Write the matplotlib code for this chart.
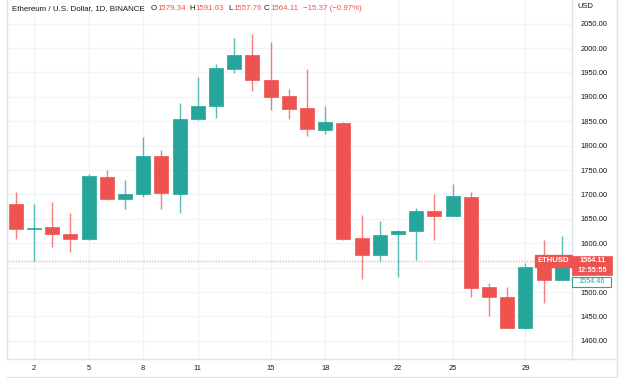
import matplotlib.pyplot as plt
import numpy as np
from matplotlib.lines import Line2D
from matplotlib.patches import Rectangle

# daily candles (day of month, open, high, low, close)
days = list(range(1, 32))
opens = [1680, 1629, 1633, 1619, 1608, 1735, 1691, 1700, 1778, 1701,
         1855, 1882, 1958, 1985, 1935, 1901, 1877, 1833, 1846, 1611,
         1576, 1618, 1624, 1667, 1656, 1694, 1510, 1490, 1426, 1556, 1525]
highs = [1705, 1680, 1684, 1662, 1742, 1751, 1729, 1817, 1791, 1887,
         1941, 1967, 2020, 2029, 2012, 1916, 1957, 1882, 1848, 1657,
         1646, 1628, 1672, 1700, 1721, 1704, 1518, 1510, 1560, 1607, 1615]
lows = [1609, 1563, 1592, 1581, 1606, 1689, 1671, 1695, 1671, 1661,
        1852, 1856, 1948, 1911, 1874, 1855, 1820, 1823, 1607, 1527,
        1564, 1531, 1566, 1606, 1655, 1490, 1451, 1426, 1424, 1477, 1524]
closes = [1630, 1632, 1619, 1608, 1738, 1691, 1700, 1778, 1703, 1855,
          1882, 1960, 1985, 1934, 1900, 1876, 1835, 1848, 1609, 1576,
          1617, 1625, 1665, 1656, 1697, 1508, 1490, 1427, 1552, 1525, 1554.46]

x_ticks = [2, 5, 8, 11, 15, 18, 22, 25, 29]
y_ticks = list(range(1400, 2100, 50))
hidden_tick = 1550  # covered by the price label on the scale
last_price = 1564.11
last_close = 1554.46

UP = "#26a69a"
DOWN = "#ef5350"
GRID = "#f0f3fa"
BORDER = "#e0e3eb"
TXT = "#131722"
FONT = "Liberation Sans"

W, H = 624, 378
fig = plt.figure(figsize=(W / 100, H / 100), dpi=100)
ax = fig.add_axes([7 / W, 19 / H, 565 / W, 359 / H])
ax.set_xlim(0.516, 31.56)
ax.set_ylim(1362.7, 2098.4)

o = np.array(opens, dtype=float)
c = np.array(closes, dtype=float)
colors = [UP if cc >= oo else DOWN for oo, cc in zip(o, c)]

ax.vlines(days, lows, highs, colors=colors, lw=1, alpha=0.75, zorder=3)
body = np.maximum(np.abs(c - o), 1.5)
ax.bar(days, body, bottom=np.minimum(o, c), width=0.76, color=colors,
       edgecolor=colors, lw=0.5, zorder=4)

# grid
ax.set_xticks(x_ticks)
ax.set_xticklabels([str(d) for d in x_ticks])
ax.set_yticks(y_ticks)
ax.set_yticklabels(["" if v == hidden_tick else "{:.2f}".format(v) for v in y_ticks])
ax.grid(True, color=GRID, lw=1, zorder=0)
ax.set_axisbelow(True)
ax.yaxis.tick_right()
ax.tick_params(axis='y', length=0, pad=6, labelsize=5.4, labelcolor=TXT)
ax.tick_params(axis='x', length=0, pad=4, labelsize=5.4, labelcolor=TXT)
for lab in ax.get_xticklabels() + ax.get_yticklabels():
    lab.set_fontfamily(FONT)

ax.spines["top"].set_visible(False)
for s in ["left", "bottom", "right"]:
    ax.spines[s].set_color(BORDER)
    ax.spines[s].set_linewidth(1)

# last price line
ax.axhline(last_price, color=DOWN, lw=1, ls=(0, (1, 1)), alpha=0.45, zorder=2)

# outer frame of the right scale / time scale
fig.add_artist(Line2D([617 / W, 617 / W], [1 / H, 1], color=BORDER, lw=1))
fig.add_artist(Line2D([7 / W, 617 / W], [1 / H, 1 / H], color=BORDER, lw=1))
fig.add_artist(Line2D([572 / W, 617 / W], [19 / H, 19 / H], color=BORDER, lw=1))

# price labels on the scale
ytr = ax.get_yaxis_transform()
fig.text(577 / W, 1 - 6 / H, "USD", fontsize=5.4, color=TXT, family=FONT, va='center')
ax.add_patch(Rectangle((1.0, 1534.8), 0.071, 39.6, transform=ytr, fc=DOWN,
                       ec=DOWN, lw=0.5, clip_on=False, zorder=5))
ax.add_patch(Rectangle((1.0, 1510.9), 0.069, 19.2, transform=ytr, fc='white',
                       ec=UP, lw=0.8, clip_on=False, zorder=5))
ax.text(1.036, 1565.0, "1564.11", transform=ytr, ha='center', va='center',
        fontsize=5.2, color='white', family=FONT, fontweight='bold', zorder=6)
ax.text(1.036, 1543.5, "12:55:55", transform=ytr, ha='center', va='center',
        fontsize=5.2, color='white', family=FONT, fontweight='bold', zorder=6)
ax.text(1.035, 1520.5, "1554.46", transform=ytr, ha='center', va='center',
        fontsize=5.2, color=UP, family=FONT, zorder=6)
ax.text(0.995, last_price, "ETHUSD", transform=ytr,
        ha='right', va='center', fontsize=5.6, color='white', family=FONT,
        fontweight='bold',
        bbox=dict(boxstyle='square,pad=0.3', fc=DOWN, ec=DOWN), zorder=6)

# header
hy = 1 - 9 / H
hs = 5.7
fig.text(12 / W, hy, "Ethereum / U.S. Dollar, 1D, BINANCE", fontsize=hs,
         color=TXT, family=FONT, va='center')
parts = [(151, "O", TXT), (157.5, "1579.34", DOWN), (189, "H", TXT),
         (195, "1591.63", DOWN), (228, "L", TXT), (233, "1557.76", DOWN),
         (264, "C", TXT), (270, "1564.11", DOWN), (303, "\u221215.37 (\u22120.97%)", DOWN)]
for px, s, col in parts:
    fig.text(px / W, hy, s, fontsize=hs, color=col, family=FONT, va='center')

fig.savefig("out.png", dpi=100)
